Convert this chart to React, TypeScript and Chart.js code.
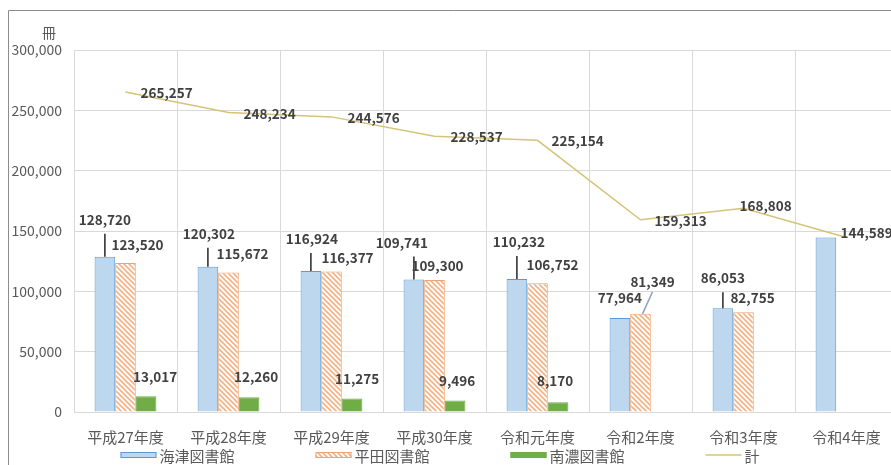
import React, { useEffect, useRef } from "react";
import { Chart, registerables } from "chart.js";

Chart.register(...registerables);

// ---- data ----
const categories = ["平成27年度", "平成28年度", "平成29年度", "平成30年度", "令和元年度", "令和2年度", "令和3年度", "令和4年度"];
const kaizu: (number | null)[] = [128720, 120302, 116924, 109741, 110232, 77964, 86053, 144589];
const hirata: (number | null)[] = [123520, 115672, 116377, 109300, 106752, 81349, 82755, null];
const nanno: (number | null)[] = [13017, 12260, 11275, 9496, 8170, null, null, null];
const total: (number | null)[] = [265257, 248234, 244576, 228537, 225154, 159313, 168808, 144589];
const seriesNames = ["海津図書館", "平田図書館", "南濃図書館", "計"];
const yMax = 300000;
const yStep = 50000;
const yUnit = "冊";

// ---- styles ----
const FONT = '"Noto Sans CJK JP", "Noto Sans", sans-serif';
const BLUE_FILL = "#bdd7ee";
const BLUE_LINE = "#5b9bd5";
const ORANGE = "#f4b183";
const ORANGE_LINE = "#f0a36e";
const GREEN = "#70ad47";
const LINE_COLOR = "#d6c476";
const LABEL_COLOR = "#404040";
const AXIS_TEXT = "#595959";
const GRID = "#d9d9d9";

// label offsets relative to bar top / line point: [dx, dy] (null = hidden)
const barLabelOffsets: ([number, number] | null)[][] = [
  [[0, -37], [1, -33], [1, -32], [-12, -37], [2, -37], [0, -20], [0, -30], null],
  [[12, -18], [14, -19], [16, -14], [3, -14], [15, -18], [12, -32], [9, -14], null],
  [[9, -19], [7, -20], [5, -20], [2, -20], [-3, -21], null, null, null],
];
// leader lines: "v" = vertical from bar top to under label, "s" = slanted
const leaders: (string | null)[][] = [
  ["v", "v", "v", "v", "v", null, "v", null],
  [null, null, null, null, null, "s", null, null],
  [null, null, null, null, null, null, null, null],
];
const lineLabelOffsets: [number, number][] = [
  [15, 1], [15, 1], [16, 1], [16, 1], [14, 1], [14, 1], [-4, -2], [-6, -5],
];

function makeHatch(): CanvasPattern | string {
  const c = document.createElement("canvas");
  c.width = 5;
  c.height = 5;
  const g = c.getContext("2d");
  if (!g) return ORANGE;
  g.fillStyle = "#ffffff";
  g.fillRect(0, 0, 5, 5);
  g.strokeStyle = ORANGE;
  g.lineWidth = 1.6;
  g.beginPath();
  g.moveTo(-1, -1);
  g.lineTo(6, 6);
  g.moveTo(-1, 4);
  g.lineTo(1, 6);
  g.moveTo(4, -1);
  g.lineTo(6, 1);
  g.stroke();
  const p = g.createPattern(c, "repeat");
  return p || ORANGE;
}

const fmt = (v: number) => v.toLocaleString("en-US");

export default function App() {
  const ref = useRef<HTMLCanvasElement | null>(null);

  useEffect(() => {
    document.body.style.margin = "0";
    const canvas = ref.current;
    if (!canvas) return;
    const hatch = makeHatch();

    const framePlugin = {
      id: "frame",
      beforeDraw(chart: any) {
        const ctx = chart.ctx;
        ctx.save();
        ctx.fillStyle = "#ffffff";
        ctx.fillRect(0, 0, chart.width, chart.height);
        ctx.strokeStyle = "#8c8c8c";
        ctx.lineWidth = 1;
        ctx.beginPath();
        ctx.moveTo(8.5, chart.height);
        ctx.lineTo(8.5, 10.5);
        ctx.lineTo(chart.width, 10.5);
        ctx.stroke();
        ctx.restore();
      },
    };

    const labelPlugin = {
      id: "valueLabels",
      afterDatasetsDraw(chart: any) {
        const ctx = chart.ctx;
        ctx.save();
        ctx.font = `bold 13.5px ${FONT}`;
        ctx.fillStyle = LABEL_COLOR;
        ctx.textBaseline = "middle";
        for (let d = 0; d < 3; d++) {
          const meta = chart.getDatasetMeta(d);
          const data = chart.data.datasets[d].data;
          meta.data.forEach((el: any, j: number) => {
            const v = data[j];
            const off = barLabelOffsets[d][j];
            if (v == null || !off) return;
            const lx = el.x + off[0];
            const ly = el.y + off[1];
            const ld = leaders[d][j];
            if (ld === "v") {
              ctx.strokeStyle = "#262626";
              ctx.lineWidth = 1.5;
              ctx.beginPath();
              ctx.moveTo(el.x, el.y);
              ctx.lineTo(el.x, ly + 14);
              ctx.stroke();
            } else if (ld === "s") {
              ctx.strokeStyle = "#8ea4bf";
              ctx.lineWidth = 1.5;
              ctx.beginPath();
              ctx.moveTo(el.x + 2, el.y);
              ctx.lineTo(lx, ly + 10);
              ctx.stroke();
            }
            ctx.textAlign = "center";
            ctx.fillText(fmt(v), lx, ly);
          });
        }
        const lmeta = chart.getDatasetMeta(3);
        lmeta.data.forEach((pt: any, j: number) => {
          const v = total[j];
          if (v == null) return;
          const off = lineLabelOffsets[j];
          ctx.textAlign = "left";
          ctx.fillText(fmt(v), pt.x + off[0], pt.y + off[1]);
        });
        ctx.restore();
      },
      afterDraw(chart: any) {
        const ctx = chart.ctx;
        const ys = chart.scales.y;
        ctx.save();
        // unit label
        ctx.font = `14px ${FONT}`;
        ctx.fillStyle = AXIS_TEXT;
        ctx.textAlign = "center";
        ctx.textBaseline = "middle";
        ctx.fillText(yUnit, ys.right - 25, chart.chartArea.top - 17);
        // legend
        ctx.font = `15px ${FONT}`;
        const boxW = 36;
        const gapText = 3;
        const gapItem = 81;
        const widths = seriesNames.map((n) => boxW + gapText + ctx.measureText(n).width);
        const totalW = widths.reduce((a, b) => a + b, 0) + gapItem * (seriesNames.length - 1);
        let x = 440 - totalW / 2;
        const cy = 455;
        const fills: any[] = [BLUE_FILL, hatch, GREEN];
        const strokes = [BLUE_LINE, ORANGE_LINE, GREEN];
        seriesNames.forEach((n, i) => {
          if (i < 3) {
            ctx.fillStyle = fills[i];
            ctx.fillRect(x, cy - 3, boxW, 6);
            ctx.strokeStyle = strokes[i];
            ctx.lineWidth = 1;
            ctx.strokeRect(x + 0.5, cy - 2.5, boxW - 1, 5);
          } else {
            ctx.strokeStyle = LINE_COLOR;
            ctx.lineWidth = 1.5;
            ctx.beginPath();
            ctx.moveTo(x, cy);
            ctx.lineTo(x + boxW, cy);
            ctx.stroke();
          }
          ctx.fillStyle = AXIS_TEXT;
          ctx.textAlign = "left";
          ctx.fillText(n, x + boxW + gapText, cy + 1);
          x += widths[i] + gapItem;
        });
        ctx.restore();
      },
    };

    const chart = new Chart(canvas, {
      data: {
        labels: categories,
        datasets: [
          {
            type: "bar",
            label: seriesNames[0],
            data: kaizu,
            backgroundColor: BLUE_FILL,
            borderColor: BLUE_LINE,
            borderWidth: 1,
            categoryPercentage: 0.6,
            barPercentage: 1,
            order: 2,
          },
          {
            type: "bar",
            label: seriesNames[1],
            data: hirata,
            backgroundColor: hatch as any,
            borderColor: ORANGE_LINE,
            borderWidth: 1,
            categoryPercentage: 0.6,
            barPercentage: 1,
            order: 2,
          },
          {
            type: "bar",
            label: seriesNames[2],
            data: nanno,
            backgroundColor: GREEN,
            borderColor: GREEN,
            borderWidth: 1,
            categoryPercentage: 0.6,
            barPercentage: 1,
            order: 2,
          },
          {
            type: "line",
            label: seriesNames[3],
            data: total,
            borderColor: LINE_COLOR,
            borderWidth: 1.5,
            pointRadius: 0,
            fill: false,
            tension: 0,
            order: 1,
          },
        ] as any,
      },
      options: {
        animation: false,
        responsive: false,
        devicePixelRatio: 1,
        layout: { padding: { left: 8, top: 50, right: 0, bottom: 19 } },
        plugins: {
          legend: { display: false },
          tooltip: { enabled: false },
          title: { display: false },
        },
        scales: {
          x: {
            grid: { color: GRID, offset: true, drawTicks: false },
            border: { color: GRID },
            ticks: {
              font: { family: FONT, size: 15 },
              color: AXIS_TEXT,
              padding: 16,
              maxRotation: 0,
              autoSkip: false,
            },
            afterFit(scale: any) {
              scale.height = 34;
            },
          },
          y: {
            min: 0,
            max: yMax,
            grid: { color: GRID, drawTicks: false },
            border: { display: false },
            ticks: {
              stepSize: yStep,
              font: { family: FONT, size: 14 },
              color: AXIS_TEXT,
              padding: 12,
              callback: (v: any) => fmt(Number(v)),
            },
            afterFit(scale: any) {
              scale.width = 66;
            },
          },
        },
      } as any,
      plugins: [framePlugin, labelPlugin],
    });
    return () => chart.destroy();
  }, []);

  return (
    <div style={{ width: 891, height: 465, overflow: "hidden", position: "relative" }}>
      <canvas ref={ref} width={898} height={465} style={{ width: 898, height: 465, display: "block" }} />
    </div>
  );
}
